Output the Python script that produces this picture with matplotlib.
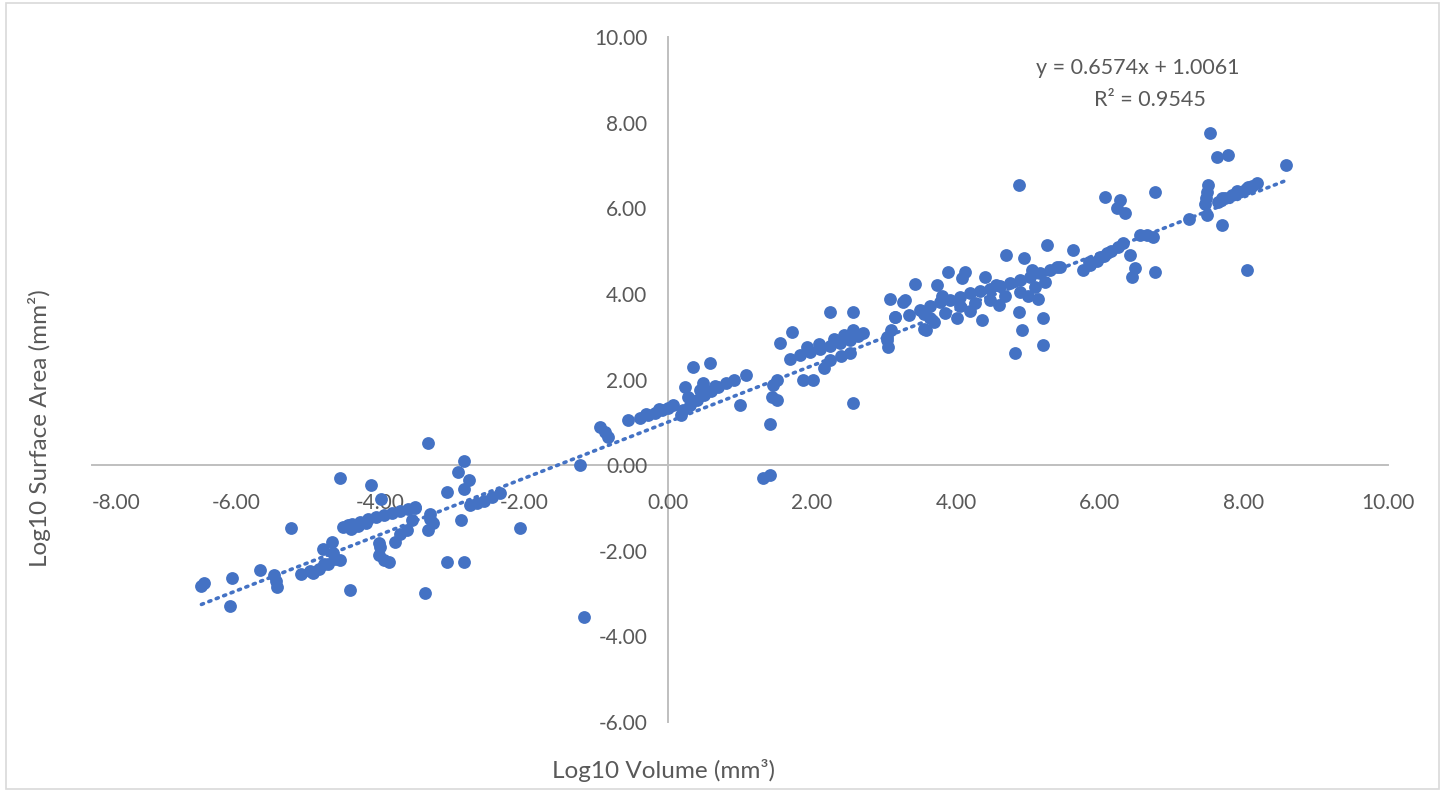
import numpy as np
import matplotlib
matplotlib.use("Agg")
import matplotlib.pyplot as plt
from matplotlib.patches import Rectangle

plt.rcParams['font.family'] = ['Lato', 'DejaVu Sans']

# log10 volume / log10 surface area
vol = [-6.48, -6.44, -6.06, -6.09, -5.67, -5.47, -5.45, -5.43, -5.24, -5.10, -4.97, -4.93, -4.85,
       -4.79, -4.72, -4.67, -4.62, -4.56, -4.55, -4.42, -4.65, -4.78,
       -4.51, -4.45, -4.39, -4.28, -4.17, -4.06, -3.94, -3.83, -3.72, -3.61, -3.51, -4.40, -4.30, -4.20,
       -4.12, -3.98, -4.02, -4.02, -3.95, -3.88, -4.00, -3.79, -3.72, -3.63, -3.56, -3.51, -3.31, -3.26,
       -3.33, -3.30, -3.37, -3.34, -3.07, -2.84, -3.07, -2.87, -2.83, -2.91, -2.76, -2.83, -2.75, -2.65,
       -2.55, -2.44, -2.33, -2.06,
       -1.22, -1.17, -0.94, -0.88, -0.83, -0.55, -0.39, -0.28, -0.18, -0.08, 0.00, 0.07, -0.30, -0.12,
       0.21, 0.31, 0.40, 0.50, 0.60, 0.70, 0.81, 0.91, 0.24, 0.28, 0.35, 0.58, 0.49, 1.09, 1.00, 0.18,
       0.45, 0.65,
       1.42, 1.46, 1.44, 1.51, 1.51, 1.32, 1.42, 1.56, 1.72,
       1.69, 1.83, 1.97, 2.11, 2.25, 2.39, 2.53, 2.64, 2.71, 1.93, 2.10, 2.30, 2.45, 2.57,
       1.88, 2.01, 2.16, 2.25, 2.53, 2.25, 2.57, 2.57, 2.40,
       3.04, 3.10, 3.15, 3.06, 3.27, 3.55, 3.59, 3.08, 3.29, 3.43, 3.15, 3.04, 3.55,
       3.50, 3.64, 3.78, 3.92, 4.06, 4.19, 4.33, 4.47, 4.61, 4.75, 4.89, 5.03, 5.17, 5.31, 5.44,
       3.64, 3.85, 4.06, 4.26, 4.47, 4.68, 4.89, 5.10, 5.24,
       3.73, 3.89, 4.13, 4.08, 4.40, 4.01, 4.36, 4.70, 4.94, 5.26, 4.87, 5.21, 4.91, 5.21, 4.82,
       5.63, 5.14, 4.87, 3.70, 4.20, 4.60, 5.00, 3.35, 3.80, 4.55, 5.05,
       5.77, 5.86, 5.96, 6.06, 6.15, 6.25, 6.32, 5.40, 5.85, 6.00, 6.10,
       6.42, 6.49, 6.44, 6.76, 6.56, 6.74, 6.65,
       6.07, 6.28, 6.23, 6.35, 6.76,
       7.23, 7.48, 7.46, 7.48, 7.50, 7.47, 7.62, 7.78, 7.53,
       7.64, 7.74, 7.83, 7.93, 8.03, 8.11, 8.18, 7.70, 7.90, 8.05,
       7.69, 8.04, 8.59]

area = [-2.82, -2.76, -2.64, -3.30, -2.45, -2.57, -2.70, -2.84, -1.46, -2.55, -2.48, -2.52, -2.42,
        -1.95, -2.30, -1.79, -2.20, -2.22, -0.30, -2.92, -2.05, -2.32,
        -1.45, -1.40, -1.38, -1.33, -1.26, -1.21, -1.17, -1.12, -1.07, -1.03, -0.98, -1.50, -1.42, -1.35,
        -0.47, -0.80, -1.83, -2.10, -2.22, -2.26, -1.91, -1.79, -1.60, -1.52, -1.29, -1.01, -1.13, -1.36,
        -1.52, -1.25, -2.98, 0.51, -2.26, -2.26, -0.62, -1.29, 0.10, -0.16, -0.35, -0.55, -0.93, -0.88,
        -0.83, -0.75, -0.66, -1.48,
        0.00, -3.55, 0.89, 0.78, 0.66, 1.05, 1.09, 1.16, 1.22, 1.28, 1.33, 1.40, 1.20, 1.30,
        1.29, 1.40, 1.52, 1.63, 1.72, 1.82, 1.91, 1.99, 1.83, 1.60, 2.30, 2.38, 1.91, 2.10, 1.40, 1.17,
        1.75, 1.85,
        0.97, 1.87, 1.60, 1.99, 1.52, -0.30, -0.23, 2.86, 3.11,
        2.49, 2.58, 2.64, 2.71, 2.78, 2.85, 2.92, 3.01, 3.08, 2.76, 2.82, 2.95, 3.05, 3.15,
        1.99, 1.99, 2.26, 2.45, 2.61, 3.58, 3.58, 1.44, 2.55,
        2.92, 3.15, 3.46, 2.76, 3.82, 3.54, 3.15, 3.89, 3.86, 4.24, 3.46, 3.00, 3.19,
        3.62, 3.71, 3.81, 3.85, 3.92, 4.01, 4.06, 4.11, 4.18, 4.25, 4.32, 4.39, 4.49, 4.56, 4.63,
        3.43, 3.55, 3.71, 3.78, 3.85, 3.95, 4.04, 4.16, 4.28,
        4.21, 4.52, 4.52, 4.36, 4.40, 3.43, 3.39, 4.91, 4.83, 5.14, 3.58, 3.43, 3.15, 2.80, 2.61,
        5.02, 3.89, 6.54, 3.35, 3.60, 3.75, 3.95, 3.50, 3.95, 4.20, 4.55,
        4.56, 4.67, 4.77, 4.88, 4.99, 5.09, 5.18, 4.63, 4.75, 4.85, 4.95,
        4.91, 4.60, 4.40, 4.52, 5.37, 5.33, 5.37,
        6.27, 6.19, 6.00, 5.88, 6.39,
        5.76, 5.84, 6.11, 6.39, 6.54, 6.25, 7.20, 7.24, 7.76,
        6.15, 6.23, 6.30, 6.37, 6.44, 6.51, 6.58, 6.25, 6.40, 6.50,
        5.61, 4.56, 7.01]

slope = 0.6574
intercept = 1.0061
x_ticks = [-8, -6, -4, -2, 0, 2, 4, 6, 8, 10]
y_ticks = [-6, -4, -2, 0, 2, 4, 6, 8, 10]

blue = '#4472C4'
grey_txt = '#595959'

fig = plt.figure(figsize=(14.45, 7.92), dpi=100)
ax = fig.add_axes([92 / 1445, 1 - 722 / 792, (1388 - 92) / 1445, (722 - 37) / 792])

ax.scatter(vol, area, s=85, color=blue, zorder=3, linewidths=0)

# trendline
xt = np.array([min(vol), max(vol)])
ax.plot(xt, slope * xt + intercept, color=blue, lw=2.6, linestyle=(0, (0.6, 1.6)),
        dash_capstyle='round', zorder=2)

ax.set_xlim(-8, 10)
ax.set_ylim(-6, 10)
ax.set_xticks(x_ticks)
ax.set_yticks(y_ticks)
ax.set_xticklabels(['%.2f' % v for v in x_ticks])
ax.set_yticklabels(['%.2f' % v for v in y_ticks])

for s in ['top', 'right']:
    ax.spines[s].set_visible(False)
ax.spines['left'].set_position(('data', 0))
ax.spines['bottom'].set_position(('data', 0))
for s in ['left', 'bottom']:
    ax.spines[s].set_color('#BFBFBF')
    ax.spines[s].set_linewidth(1.4)
    ax.spines[s].set_zorder(1)
ax.tick_params(axis='x', length=0, pad=20, labelsize=15, labelcolor=grey_txt)
ax.tick_params(axis='y', length=0, pad=15, labelsize=15, labelcolor=grey_txt)
ax.get_xticklabels()[0].set_ha('left')
ax.patch.set_alpha(0)

ax.text(6.53, 9.28, 'y = 0.6574x + 1.0061', ha='center', va='center', fontsize=15.5, color=grey_txt)
ax.text(6.69, 8.53, 'R² = 0.9545', ha='center', va='center', fontsize=15.5, color=grey_txt)

fig.text(663 / 1445, 1 - 770 / 792, 'Log10 Volume (mm³)', ha='center', va='center',
         fontsize=17.5, color=grey_txt)
fig.text(40 / 1445, 1 - 428 / 792, 'Log10 Surface Area (mm²)', ha='center', va='center',
         rotation=90, fontsize=17.5, color=grey_txt)

fig.patches.append(Rectangle((0.004, 0.004), 0.992, 0.992, transform=fig.transFigure,
                             fill=False, edgecolor='#D9D9D9', linewidth=1.2))

fig.savefig('out.png', dpi=100)
